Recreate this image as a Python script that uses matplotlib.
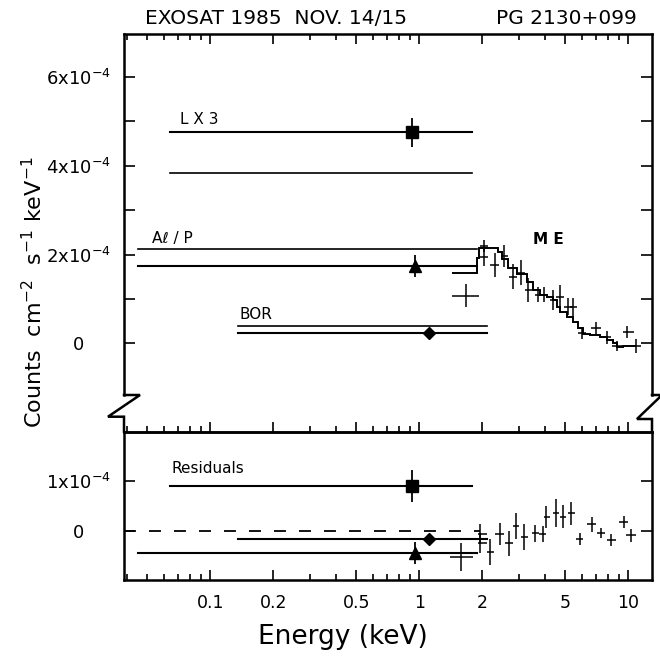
import matplotlib
matplotlib.use("Agg")
import matplotlib.pyplot as plt
import numpy as np
from matplotlib.lines import Line2D
from matplotlib.ticker import FixedLocator, NullFormatter

plt.rcParams['font.family'] = ['DejaVu Sans']
plt.rcParams['lines.scale_dashes'] = False

# ---- data (flux in units of 1e-4 counts cm-2 s-1 keV-1, energy in keV) ----
# broad band filters: LX3, Al/P, BOR
filt_names = ['L X 3', 'Aℓ / P', 'BOR']
filt_lo = [0.064, 0.045, 0.136]
filt_hi = [1.79, 1.88, 2.10]
filt_e = [0.92, 0.95, 1.11]
filt_data = [4.75, 1.75, 0.225]
filt_err = [0.32, 0.25, 0.0]
filt_model = [3.83, 2.12, 0.39]
filt_resid = [0.89, -0.44, -0.17]
filt_resid_err = [0.32, 0.22, 0.0]
filt_marker = ['s', '^', 'D']

# ME spectrum
me_e = [1.67, 2.04, 2.04, 2.30, 2.54, 2.82, 3.05, 3.32, 3.70, 3.95, 4.38,
        4.71, 5.16, 5.45, 5.98, 7.00, 7.88, 8.86, 9.82, 10.9]
me_lo = [1.44, 1.95, 1.95, 2.18, 2.45, 2.70, 2.92, 3.20, 3.58, 3.80, 4.20,
         4.50, 4.90, 5.25, 5.77, 6.60, 7.40, 8.40, 9.40, 10.3]
me_hi = [1.94, 2.14, 2.14, 2.41, 2.66, 2.94, 3.20, 3.45, 3.80, 4.10, 4.55,
         4.90, 5.40, 5.70, 6.27, 7.40, 8.30, 9.30, 10.6, 11.5]
me_val = [1.07, 2.19, 1.94, 1.76, 1.97, 1.50, 1.59, 1.20, 1.09, 1.09, 0.975,
          1.05, 0.82, 0.82, 0.225, 0.34, 0.135, -0.06, 0.26, -0.06]
me_err = [0.26, 0.14, 0.20, 0.27, 0.25, 0.28, 0.28, 0.26, 0.17, 0.17, 0.22,
          0.26, 0.19, 0.20, 0.13, 0.13, 0.14, 0.11, 0.13, 0.15]

# ME model histogram
model_edges = [1.43, 1.88, 1.94, 2.39, 2.48, 2.66, 2.92, 3.26, 3.51, 3.78, 4.07,
               4.38, 4.54, 4.71, 5.07, 5.46, 5.77, 6.09, 6.56, 7.33, 7.88, 8.48,
               8.80, 9.45, 10.9]
model_val = [1.58, 1.92, 2.15, 2.05, 1.90, 1.70, 1.55, 1.38, 1.20, 1.09, 1.04,
             0.97, 0.82, 0.71, 0.60, 0.49, 0.34, 0.22, 0.19, 0.15, 0.07, 0.0,
             -0.08, -0.05]

# ME residuals
res_e = [1.59, 1.95, 1.95, 2.19, 2.42, 2.69, 2.90, 3.18, 3.58, 3.90, 4.06,
         4.50, 4.86, 5.34, 5.87, 6.67, 7.37, 8.27, 9.50, 10.3]
res_lo = [1.40, 1.90, 1.90, 2.10, 2.30, 2.58, 2.80, 3.05, 3.45, 3.75, 3.95,
          4.35, 4.70, 5.15, 5.65, 6.35, 7.05, 7.90, 9.05, 9.80]
res_hi = [1.80, 2.10, 2.10, 2.28, 2.55, 2.80, 3.00, 3.30, 3.72, 4.05, 4.20,
          4.65, 5.05, 5.55, 6.10, 7.00, 7.70, 8.70, 9.95, 10.9]
res_val = [-0.53, -0.07, -0.24, -0.42, -0.07, -0.25, 0.09, -0.12, -0.05, -0.07,
           0.28, 0.36, 0.28, 0.35, -0.17, 0.13, -0.05, -0.19, 0.18, -0.09]
res_err = [0.28, 0.20, 0.20, 0.26, 0.22, 0.25, 0.26, 0.26, 0.17, 0.16, 0.22,
           0.28, 0.23, 0.23, 0.12, 0.15, 0.10, 0.12, 0.12, 0.13]

major_x = [0.1, 0.2, 0.5, 1, 2, 5, 10]
major_lab = ['0.1', '0.2', '0.5', '1', '2', '5', '10']
minor_x = [0.04, 0.05, 0.06, 0.07, 0.08, 0.09, 0.3, 0.4, 0.6, 0.7, 0.8, 0.9,
           3, 4, 6, 7, 8, 9]

# ---- layout (pixels) ----
W, H = 660, 656
def fx(px):
    return px / W
def fy(py):
    return 1 - py / H

fig = plt.figure(figsize=(6.6, 6.56), dpi=100)
L, R = 124, 652
ax1 = fig.add_axes([fx(L), fy(395), fx(R) - fx(L), fy(34) - fy(395)])
ax2 = fig.add_axes([fx(L), fy(580), fx(R) - fx(L), fy(431.7) - fy(580)])

xlim = (0.03866, 12.98)
lw_ax = 1.8

for ax in (ax1, ax2):
    ax.set_xscale('log')
    ax.set_xlim(*xlim)
    for s in ax.spines.values():
        s.set_linewidth(lw_ax)
    ax.set_xticks(major_x)
    ax.xaxis.set_minor_locator(FixedLocator(minor_x))
    ax.xaxis.set_minor_formatter(NullFormatter())
    ax.tick_params(axis='x', which='major', length=7.5, width=1.2)
    ax.tick_params(axis='x', which='minor', length=4.3, width=1.2)
    ax.tick_params(axis='y', which='both', direction='in', left=True, right=True,
                   length=7.8, width=1.2, labelsize=13, pad=33)

# top panel
ax1.set_ylim(-1.164, 6.966)
ax1.spines['bottom'].set_visible(False)
ax1.tick_params(axis='x', which='both', direction='in', top=True, bottom=False,
                labeltop=False, labelbottom=False)
ax1.set_yticks([0, 2, 4, 6])
ax1.set_yticks([1, 3, 5], minor=True)
ax1.set_yticklabels(['0', '2x10$^{-4}$', '4x10$^{-4}$', '6x10$^{-4}$'])
for t in ax1.get_yticklabels():
    t.set_ha('center')

for i in range(3):
    ax1.plot([filt_lo[i], filt_hi[i]], [filt_data[i], filt_data[i]], color='k', lw=1.5)
    ax1.plot([filt_lo[i], filt_hi[i]], [filt_model[i], filt_model[i]], color='k', lw=1.2)
    ax1.errorbar(filt_e[i], filt_data[i], yerr=filt_err[i], fmt=filt_marker[i],
                 color='k', ms=8 if i < 2 else 6, elinewidth=1.3, capsize=0)

ax1.stairs(model_val, model_edges, baseline=None, color='k', lw=1.4)
me_e_arr = np.array(me_e)
ax1.errorbar(me_e, me_val,
             xerr=[me_e_arr - np.array(me_lo), np.array(me_hi) - me_e_arr],
             yerr=me_err, fmt='none', ecolor='k', elinewidth=1.1, capsize=0)

ax1.text(0.0716, 5.05, filt_names[0], fontsize=11, va='center', ha='left')
ax1.text(0.0524, 2.36, filt_names[1], fontsize=11, va='center', ha='left')
ax1.text(0.138, 0.65, filt_names[2], fontsize=11, va='center', ha='left')
ax1.text(3.49, 2.34, 'M E', fontsize=11, va='center', ha='left', fontweight='bold')

# bottom panel
ax2.set_ylim(-0.986, 1.98)
ax2.tick_params(axis='x', which='both', direction='in', top=False, bottom=True,
                labelsize=12.5, pad=10)
ax2.set_xticklabels(major_lab)
ax2.set_yticks([0, 1])
ax2.set_yticklabels(['0', '1x10$^{-4}$'])
for t in ax2.get_yticklabels():
    t.set_ha('center')

sec = ax2.secondary_xaxis('top')
sec.set_xticks(major_x)
sec.xaxis.set_minor_locator(FixedLocator(minor_x))
sec.xaxis.set_major_formatter(NullFormatter())
sec.xaxis.set_minor_formatter(NullFormatter())
sec.tick_params(axis='x', which='major', direction='out', length=7.5, width=1.2)
sec.tick_params(axis='x', which='minor', direction='out', length=4.3, width=1.2)
sec.spines['top'].set_linewidth(lw_ax)

zero = Line2D([xlim[0], 1.95], [0, 0], color='k', lw=1.3)
zero.set_dashes([8.6, 9.4])
ax2.add_line(zero)

for i in range(3):
    ax2.plot([filt_lo[i], filt_hi[i]], [filt_resid[i], filt_resid[i]], color='k', lw=1.5)
    ax2.errorbar(filt_e[i], filt_resid[i], yerr=filt_resid_err[i], fmt=filt_marker[i],
                 color='k', ms=8 if i < 2 else 6, elinewidth=1.3, capsize=0)

res_e_arr = np.array(res_e)
ax2.errorbar(res_e, res_val,
             xerr=[res_e_arr - np.array(res_lo), np.array(res_hi) - res_e_arr],
             yerr=res_err, fmt='none', ecolor='k', elinewidth=1.1, capsize=0)
ax2.text(0.0649, 1.25, 'Residuals', fontsize=11, va='center', ha='left')

# axis break marks
left_pts = [(124, 395), (140, 395), (108, 416.7), (124, 416.7), (124, 431.7)]
right_pts = [(652, 395), (662, 395), (637, 419), (652, 419), (652, 431.7)]
for pts in (left_pts, right_pts):
    fig.add_artist(Line2D([fx(p[0]) for p in pts], [fy(p[1]) for p in pts],
                          color='k', lw=lw_ax, transform=fig.transFigure,
                          solid_joinstyle='miter'))

# titles and axis labels
fig.text(fx(145), fy(19), 'EXOSAT 1985  NOV. 14/15', fontsize=14.5, va='center', ha='left')
fig.text(fx(637), fy(19), 'PG 2130+099', fontsize=14.5, va='center', ha='right')
fig.text(fx(343), fy(637), 'Energy (keV)', fontsize=19, va='center', ha='center')
fig.text(fx(34), fy(292), 'Counts  cm$^{-2}$  s$^{-1}$ keV$^{-1}$', fontsize=16,
         va='center', ha='center', rotation=90)

fig.savefig('out.png', dpi=100)
